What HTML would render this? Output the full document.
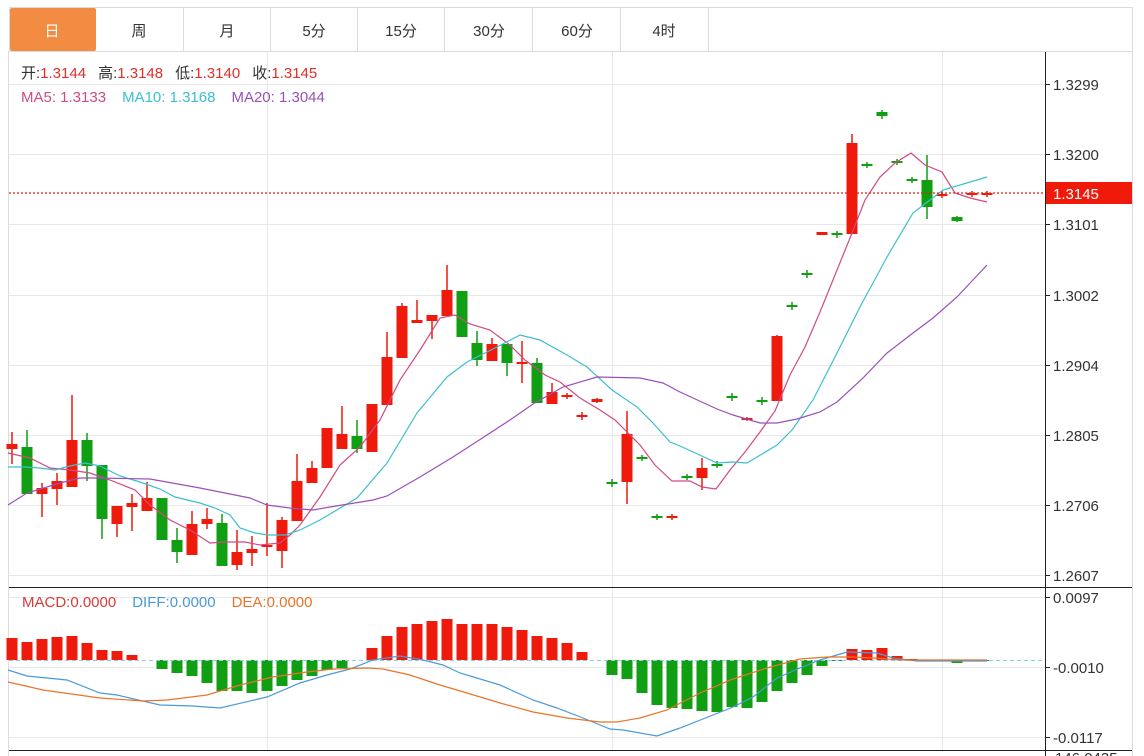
<!DOCTYPE html>
<html><head><meta charset="utf-8">
<style>
html,body{margin:0;padding:0;background:#fff;width:1144px;height:756px;overflow:hidden}
svg{display:block;font-family:"Liberation Sans","Noto Sans CJK SC",sans-serif}
</style></head><body>
<svg id="s" width="1144" height="756" xmlns="http://www.w3.org/2000/svg">
<rect width="1144" height="756" fill="#fff"/>
<rect x="9.5" y="7.5" width="1123" height="44" fill="#fff" stroke="#dcdcdc"/>
<rect x="10" y="8" width="86" height="43" fill="#f28c43" rx="2"/>
<g stroke="#dcdcdc">
<line x1="183.5" y1="8" x2="183.5" y2="51"/><line x1="270.5" y1="8" x2="270.5" y2="51"/>
<line x1="357.5" y1="8" x2="357.5" y2="51"/><line x1="444.5" y1="8" x2="444.5" y2="51"/>
<line x1="532.5" y1="8" x2="532.5" y2="51"/><line x1="620.5" y1="8" x2="620.5" y2="51"/>
<line x1="708.5" y1="8" x2="708.5" y2="51"/>
</g>
<g font-size="15" text-anchor="middle" fill="#333">
<text x="52" y="36" fill="#fff">日</text><text x="139" y="36">周</text><text x="227" y="36">月</text>
<text x="314" y="36">5分</text><text x="401" y="36">15分</text><text x="489" y="36">30分</text>
<text x="577" y="36">60分</text><text x="664" y="36">4时</text>
</g>
<line x1="8.5" y1="51" x2="8.5" y2="756" stroke="#dcdcdc"/>
<line x1="1132.5" y1="51" x2="1132.5" y2="756" stroke="#dcdcdc"/>
<g stroke="#e8e8e8">
<line x1="9" y1="84.5" x2="1045" y2="84.5"/><line x1="9" y1="154.5" x2="1045" y2="154.5"/>
<line x1="9" y1="224.5" x2="1045" y2="224.5"/><line x1="9" y1="295.5" x2="1045" y2="295.5"/>
<line x1="9" y1="365.5" x2="1045" y2="365.5"/><line x1="9" y1="435.5" x2="1045" y2="435.5"/>
<line x1="9" y1="505.5" x2="1045" y2="505.5"/><line x1="9" y1="575.5" x2="1045" y2="575.5"/>
<line x1="9" y1="597.5" x2="1045" y2="597.5"/><line x1="9" y1="667.5" x2="1045" y2="667.5"/>
<line x1="9" y1="737.5" x2="1045" y2="737.5"/>
<line x1="267.5" y1="52" x2="267.5" y2="751"/><line x1="612.5" y1="52" x2="612.5" y2="751"/>
<line x1="942.5" y1="52" x2="942.5" y2="751"/>
</g>
<line x1="9" y1="587.5" x2="1045" y2="587.5" stroke="#222"/>
<line x1="9" y1="750.5" x2="1132" y2="750.5" stroke="#222"/>
<line x1="1045.5" y1="52" x2="1045.5" y2="756" stroke="#222"/>
<line x1="1045" y1="587.5" x2="1132" y2="587.5" stroke="#222"/>
<g id="chart"></g>
<line x1="9" y1="193" x2="1045" y2="193" stroke="#f01a0a" stroke-width="1.3" stroke-dasharray="2,2"/>
<rect x="1046" y="182" width="86" height="22" fill="#f01a0a"/>
<text x="1053" y="199" font-size="15" fill="#fff">1.3145</text>
<g font-size="15" fill="#333">
<g stroke="#222"><line x1="1045" y1="84.5" x2="1050" y2="84.5"/><line x1="1045" y1="154.5" x2="1050" y2="154.5"/><line x1="1045" y1="224.5" x2="1050" y2="224.5"/><line x1="1045" y1="295.5" x2="1050" y2="295.5"/><line x1="1045" y1="365.5" x2="1050" y2="365.5"/><line x1="1045" y1="435.5" x2="1050" y2="435.5"/><line x1="1045" y1="505.5" x2="1050" y2="505.5"/><line x1="1045" y1="575.5" x2="1050" y2="575.5"/><line x1="1045" y1="597.5" x2="1050" y2="597.5"/><line x1="1045" y1="667.5" x2="1050" y2="667.5"/><line x1="1045" y1="737.5" x2="1050" y2="737.5"/></g>
<text x="1053" y="90">1.3299</text><text x="1053" y="160">1.3200</text><text x="1053" y="230">1.3101</text>
<text x="1053" y="301">1.3002</text><text x="1053" y="371">1.2904</text><text x="1053" y="441">1.2805</text>
<text x="1053" y="511">1.2706</text><text x="1053" y="581">1.2607</text>
<text x="1053" y="603">0.0097</text><text x="1053" y="673">-0.0010</text><text x="1053" y="743">-0.0117</text>
<text x="1055" y="763">146.0435</text>
</g>
<g font-size="15">
<text x="21" y="78" fill="#333">开:<tspan fill="#e0302a">1.3144</tspan><tspan dx="12" fill="#333">高:</tspan><tspan fill="#e0302a">1.3148</tspan><tspan dx="12" fill="#333">低:</tspan><tspan fill="#e0302a">1.3140</tspan><tspan dx="12" fill="#333">收:</tspan><tspan fill="#e0302a">1.3145</tspan></text>
<text x="21" y="102" fill="#d04a84">MA5: 1.3133<tspan dx="16" fill="#3cbfd0">MA10: 1.3168</tspan><tspan dx="16" fill="#9b50b8">MA20: 1.3044</tspan></text>
<text x="22" y="607" fill="#d83a3a">MACD:0.0000<tspan dx="16" fill="#4a9ad8">DIFF:0.0000</tspan><tspan dx="16" fill="#e8752a">DEA:0.0000</tspan></text>
</g>
</svg>
<script>
var C=[[444,449,432,464,1],[447,494,430,494,0],[488,494,483,517,1],[481,489,473,505,1],[440,487,395,487,1],[440,466,433,481,0],[465,519,465,539,0],[506,524,506,537,1],[503,507,494,531,1],[498,511,482,511,1],[498,540,498,540,0],[540,552,528,563,0],[524,555,511,555,1],[519,524,508,529,1],[523,566,514,566,0],[552,565,530,570,1],[549,553,536,566,1],[545,547,503,556,1],[520,551,517,568,1],[481,521,454,521,1],[468,483,461,483,1],[428,468,428,468,1],[434,449,406,449,1],[436,449,420,453,0],[404,452,404,452,1],[357,405,332,405,1],[306,358,303,358,1],[320,323,300,323,1],[315,321,315,339,1],[290,316,265,316,1],[291,337,291,337,0],[343,360,331,366,0],[344,361,338,361,1],[344,363,344,376,0],[362,364,341,383,1],[363,403,358,403,0],[392,404,383,404,1],[395,397,393,399,1],[415,417,412,420,1],[399,402,398,403,1],[482,484,479,487,0],[434,482,411,504,1],[457,459,455,461,0],[516,518,514,520,0],[516,518,514,520,1],[476,478,474,480,0],[468,478,458,490,1],[464,466,461,468,0],[396,398,393,401,0],[418,420,417,421,1],[400,402,397,405,0],[336,401,335,401,1],[305,307,302,310,0],[273,275,270,278,0],[232,235,232,235,1],[233,235,231,238,0],[143,234,134,234,1],[164,166,162,168,0],[112,116,110,119,0],[161,163,159,165,0],[179,181,177,183,0],[180,207,155,219,0],[194,196,191,198,1],[217,221,216,222,0],[193,195,191,197,1],[193,195,191,197,1]];
var H=[638,642,639,637,636,643,650,651,655,660,669,673,676,683,691,691,693,691,686,680,676,670,668,660,648,636,627,624,621,619,624,624,624,627,630,636,638,643,652,660,675,679,693,705,708,709,711,712,707,708,702,691,683,675,666,661,649,650,648,656,659,661,661,663,661,661];
var R="#ee1a0c",G="#109e12",o="";
for(var i=0;i<H.length;i++){var x=12+15*i,h=H[i];
 if(h<660)o+='<rect x="'+(x-5.5)+'" y="'+h+'" width="11" height="'+(660-h)+'" fill="'+R+'"/>';
 else if(h>660)o+='<rect x="'+(x-5.5)+'" y="660" width="11" height="'+(h-660)+'" fill="'+G+'"/>';}
o+='<line x1="9" y1="660.5" x2="1045" y2="660.5" stroke="#8ccfe0" stroke-dasharray="4,3"/>';
for(var i=0;i<C.length;i++){var c=C[i],x=12+15*i,col=c[4]?R:G;
 o+='<line x1="'+x+'" y1="'+c[2]+'" x2="'+x+'" y2="'+c[3]+'" stroke="'+col+'" stroke-width="1.5"/>';
 o+='<rect x="'+(x-5.5)+'" y="'+c[0]+'" width="11" height="'+Math.max(2,c[1]-c[0])+'" fill="'+col+'"/>';}
function pl(p,col){return '<polyline fill="none" stroke="'+col+'" stroke-width="1.2" points="'+p+'"/>';}
o+=pl("8,453 30,458 50,468 70,470 90,473 110,480 135,490 150,505 170,520 190,530 210,543 225,542 245,542 260,545 280,543 290,535 300,525 320,497 340,465 360,447 380,420 400,380 420,350 440,318 455,315 470,324 490,330 510,345 525,360 545,375 560,382 580,398 600,410 615,420 630,435 640,445 655,465 672,481 690,481 702,487 716,489 730,470 745,452 760,432 775,411 790,375 805,347 820,312 835,275 850,238 865,200 880,177 895,163 911,153 925,165 942,172 955,193 970,198 987,202","#d04a84");
o+=pl("8,467 25,467 40,468 55,470 70,466 85,463 100,466 120,476 140,482 160,489 175,497 200,503 215,508 230,515 240,528 255,533 268,535 285,535 300,530 320,520 357,498 387,463 417,413 447,377 467,362 497,347 520,335 540,340 567,355 587,367 612,390 637,407 653,423 670,442 680,446 717,463 733,462 747,463 777,445 792,430 813,400 837,353 860,307 887,257 913,213 943,190 987,177","#3cbfd0");
o+=pl("8,505 27,493 60,483 80,478 100,478 150,479 200,488 250,498 267,505 290,508 313,510 330,507 373,500 387,496 420,477 453,457 487,435 510,420 533,404 563,387 597,377 640,378 663,383 680,392 717,409 733,415 760,423 777,423 797,419 820,412 837,402 863,378 887,353 913,333 933,318 957,297 987,265","#9b50b8");
o+=pl("8,670 27,676 67,680 100,693 117,695 160,705 193,706 220,708 267,697 300,683 327,675 350,669 373,660 400,656 423,660 443,665 460,673 500,685 533,700 557,708 583,718 610,729 623,730 657,736 680,728 713,715 733,707 753,697 777,678 800,668 820,660 847,652 877,653 893,658 917,661 967,661 987,661","#4a9ad8");
o+=pl("8,682 43,690 100,698 143,701 167,700 207,695 240,685 273,677 307,672 333,669 367,668 383,669 410,675 440,685 467,693 500,703 533,712 567,718 600,722 617,722 640,718 667,710 700,693 733,679 767,668 800,659 827,657 853,657 873,658 900,660 987,660","#e8752a");
document.getElementById("chart").innerHTML=o;
</script>
</body></html>
